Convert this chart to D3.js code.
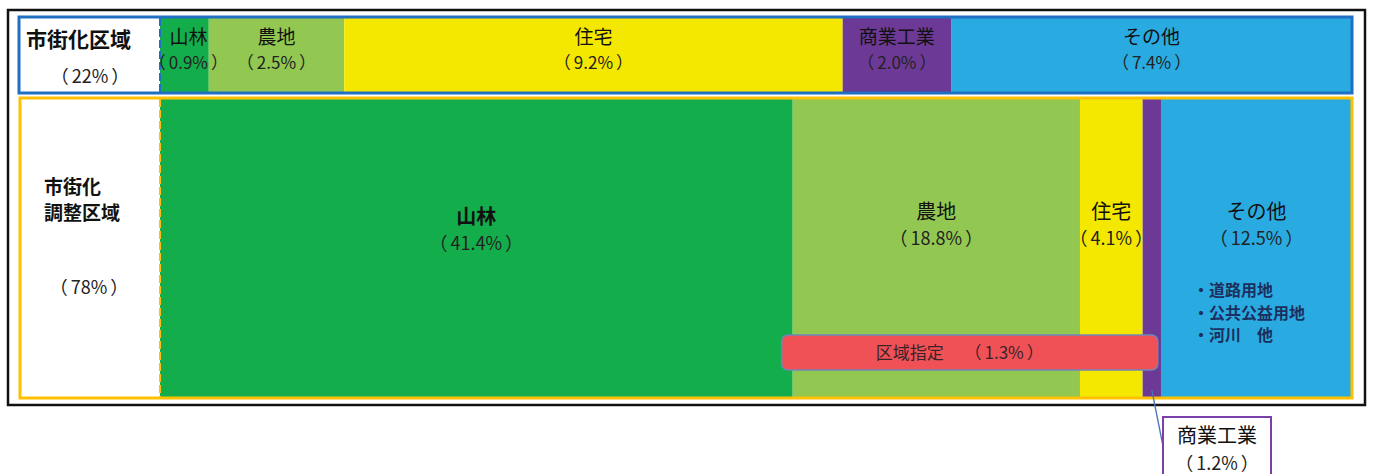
<!DOCTYPE html>
<html lang="ja">
<head>
<meta charset="utf-8">
<script src="https://cdn.jsdelivr.net/npm/d3@7"></script>
<style>
  html, body { margin: 0; padding: 0; background: #ffffff; }
  svg { display: block; font-family: "Noto Sans CJK JP", "Noto Sans", sans-serif; }
</style>
</head>
<body>
<svg id="chart" width="1373" height="474"></svg>
<script>
// Land-use categories shared by both zones
const categories = ["山林", "農地", "住宅", "商業工業", "その他"];
const categoryColors = ["#13ae4b", "#92c852", "#f5e800", "#6d3996", "#29abe2"];

// Zone shares (% of total area)
const zoneNames = ["市街化区域", "市街化調整区域"];
const zoneShares = [22, 78];

// Category shares within each zone (% of total area)
const urbanShares = [0.9, 2.5, 9.2, 2.0, 7.4];
const adjustShares = [41.4, 18.8, 4.1, 1.2, 12.5];

// Designated-area overlay and the breakdown of "その他"
const designatedLabel = "区域指定";
const designatedShare = 1.3;
const otherItems = ["・道路用地", "・公共公益用地", "・河川　他"];

const svg = d3.select("#chart");

// Percentage label "（x%）" with a little air inside the brackets
function pctText(sel, fmt) {
  sel.append("tspan").text("（");
  sel.append("tspan").attr("dx", 3).text(d => fmt(d) + "%");
  sel.append("tspan").attr("dx", 3).text("）");
}

const left = 160, right = 1352;
const rows = [
  { shares: urbanShares,  y0: 18, y1: 92,  border: "#1f6fc2", boxX: 19, boxY: 17, boxB: 93 },
  { shares: adjustShares, y0: 99, y1: 397, border: "#ffc000", boxX: 20, boxY: 98, boxB: 398 }
];

// Build stacked segments per row with their own proportional scale
rows.forEach(r => {
  const total = d3.sum(r.shares);
  r.x = d3.scaleLinear().domain([0, total]).range([left, right]);
  let acc = 0;
  r.segs = r.shares.map((v, i) => {
    const s = { cat: categories[i], color: categoryColors[i], value: v, a: acc, b: acc + v };
    acc += v;
    return s;
  });
});

// outer frame
svg.append("rect")
  .attr("x", 8).attr("y", 10).attr("width", 1357).attr("height", 395)
  .attr("fill", "none").attr("stroke", "#111").attr("stroke-width", 2.5);

rows.forEach(r => {
  svg.append("g").selectAll("rect")
    .data(r.segs)
    .join("rect")
    .attr("x", d => r.x(d.a))
    .attr("y", r.y0)
    .attr("width", d => r.x(d.b) - r.x(d.a))
    .attr("height", r.y1 - r.y0)
    .attr("fill", d => d.color);

  // zone box and dashed divider
  svg.append("rect")
    .attr("x", r.boxX).attr("y", r.boxY)
    .attr("width", right - r.boxX).attr("height", r.boxB - r.boxY)
    .attr("fill", "none").attr("stroke", r.border).attr("stroke-width", 3);
  svg.append("line")
    .attr("x1", left).attr("x2", left)
    .attr("y1", r.boxY + 1).attr("y2", r.boxB - 1)
    .attr("stroke", r.border).attr("stroke-width", 2)
    .attr("stroke-dasharray", "8,3");
});

// ---- top row labels (市街化区域) ----
const urbanRow = rows[0];
svg.append("text")
  .attr("x", 26).attr("y", 47)
  .attr("font-size", 21).attr("font-weight", "bold").attr("fill", "#111")
  .text(zoneNames[0]);
svg.append("text").datum(zoneShares[0])
  .attr("x", 90).attr("y", 83).attr("text-anchor", "middle")
  .attr("font-size", 18).attr("fill", "#222")
  .call(pctText, d => d);

const topLbl = svg.append("g").selectAll("g").data(urbanRow.segs).join("g")
  .attr("transform", d => `translate(${(urbanRow.x(d.a) + urbanRow.x(d.b)) / 2 + (d.cat === "山林" ? 4 : 0)},0)`);
topLbl.append("text")
  .attr("y", 44).attr("text-anchor", "middle")
  .attr("font-size", 19).attr("fill", "#111")
  .text(d => d.cat);
topLbl.append("text")
  .attr("y", 69).attr("text-anchor", "middle")
  .attr("font-size", 17).attr("fill", "#222")
  .call(pctText, d => d.value.toFixed(1));

// ---- bottom row labels (市街化調整区域) ----
const adjRow = rows[1];
svg.append("text")
  .attr("x", 44).attr("y", 194)
  .attr("font-size", 19).attr("font-weight", "bold").attr("fill", "#111")
  .text(zoneNames[1].slice(0, 3));
svg.append("text")
  .attr("x", 44).attr("y", 220)
  .attr("font-size", 19).attr("font-weight", "bold").attr("fill", "#111")
  .text(zoneNames[1].slice(3));
svg.append("text").datum(zoneShares[1])
  .attr("x", 89).attr("y", 294).attr("text-anchor", "middle")
  .attr("font-size", 18).attr("fill", "#222")
  .call(pctText, d => d);

const inside = adjRow.segs.filter(d => d.cat !== "商業工業");
const botLbl = svg.append("g").selectAll("g").data(inside).join("g")
  .attr("transform", d => `translate(${(adjRow.x(d.a) + adjRow.x(d.b)) / 2},${d.cat === "山林" ? 5 : 0})`);
botLbl.append("text")
  .attr("y", 219).attr("text-anchor", "middle")
  .attr("font-size", 20).attr("fill", "#111")
  .attr("font-weight", d => d.cat === "山林" ? "bold" : "normal")
  .text(d => d.cat);
botLbl.append("text")
  .attr("y", 245).attr("text-anchor", "middle")
  .attr("font-size", 18).attr("fill", "#222")
  .call(pctText, d => d.value.toFixed(1));

// breakdown of その他
const other = adjRow.segs[4];
svg.append("g").selectAll("text").data(otherItems).join("text")
  .attr("x", adjRow.x(other.a) + 32)
  .attr("y", (d, i) => 296 + i * 22.5)
  .attr("font-size", 16).attr("font-weight", "bold").attr("fill", "#1c2f5e")
  .text(d => d);

// designated-area overlay bar
const forest = adjRow.segs[0], comm = adjRow.segs[3];
const dx0 = adjRow.x(forest.b) - 11, dx1 = (adjRow.x(comm.a) + adjRow.x(comm.b)) / 2 + 6;
svg.append("rect")
  .attr("x", dx0).attr("y", 335).attr("width", dx1 - dx0).attr("height", 35)
  .attr("rx", 6).attr("ry", 6)
  .attr("fill", "#ef5157").attr("stroke", "#6f86b8").attr("stroke-width", 1.5);
const dText = svg.append("text").datum(designatedShare)
  .attr("x", (dx0 + dx1) / 2 - 10).attr("y", 359).attr("text-anchor", "middle")
  .attr("font-size", 17).attr("fill", "#3a2326");
dText.append("tspan").text(designatedLabel + "　 ");
dText.call(pctText, d => d.toFixed(1));

// callout for the narrow 商業工業 segment
const cx = (adjRow.x(comm.a) + adjRow.x(comm.b)) / 2;
const boxX = 1163, boxY = 417, boxW = 108;
svg.append("line")
  .attr("x1", cx).attr("y1", 390).attr("x2", boxX).attr("y2", 446)
  .attr("stroke", "#4a74b4").attr("stroke-width", 1.3);
svg.append("rect")
  .attr("x", boxX).attr("y", boxY).attr("width", boxW).attr("height", 70)
  .attr("fill", "#fff").attr("stroke", "#7a3fa8").attr("stroke-width", 2);
svg.append("text")
  .attr("x", boxX + boxW / 2).attr("y", 443).attr("text-anchor", "middle")
  .attr("font-size", 20).attr("fill", "#111")
  .text(comm.cat);
svg.append("text").datum(comm.value)
  .attr("x", boxX + boxW / 2).attr("y", 470).attr("text-anchor", "middle")
  .attr("font-size", 18).attr("fill", "#222")
  .call(pctText, d => d.toFixed(1));
</script>
</body>
</html>
